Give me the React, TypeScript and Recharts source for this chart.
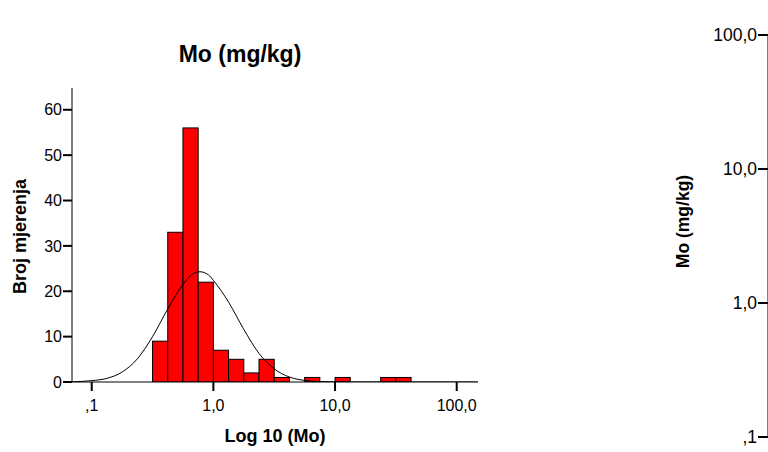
import React from "react";
import { ComposedChart, Bar, Line, XAxis, YAxis } from "recharts";

// histogram bins on log10(Mo), bin width 0.125
const binCenters = [
  -0.4375, -0.3125, -0.1875, -0.0625, 0.0625, 0.1875, 0.3125, 0.4375, 0.5625,
  0.6875, 0.8125, 0.9375, 1.0625, 1.1875, 1.3125, 1.4375, 1.5625,
];
const binCounts = [9, 33, 56, 22, 7, 5, 2, 5, 1, 0, 1, 0, 1, 0, 0, 1, 1];
const binWidth = 0.125;

// fitted normal curve
const curveX = [
  -1.16, -1.0, -0.875, -0.75, -0.625, -0.5, -0.375, -0.25, -0.18, -0.11, -0.04,
  0, 0.125, 0.25, 0.375, 0.5, 0.625, 0.75, 0.875, 1.0, 1.25, 2.175,
];
const curveY = [
  0.05, 0.3, 0.8, 2.2, 5.1, 10, 16.1, 21.5, 23.6, 24.3, 23.6, 22.4, 17.6, 11.6,
  6.3, 2.9, 1.1, 0.35, 0.1, 0.03, 0, 0,
];

const xDomain = [-1.162, 2.175];
const xTicks = [-1, 0, 1, 2];
const xTickLabels = [",1", "1,0", "10,0", "100,0"];
const yTicks = [0, 10, 20, 30, 40, 50, 60];

const boxTicks = [0.1, 1, 10, 100];
const boxTickLabels = [",1", "1,0", "10,0", "100,0"];

const histData = binCenters.map((x, i) => ({ x, count: binCounts[i] }));
const curveData = curveX.map((x, i) => ({ x, fit: curveY[i] }));

const font = '"Liberation Sans", Arial, sans-serif';

const chartW = 480;
const margin = { top: 88, right: 2, bottom: 40, left: 22 };
const yAxisW = 50;
const plotW = chartW - margin.left - margin.right - yAxisW;
// bar width in px = bin width scaled to the x axis
const barPx = (binWidth * plotW) / (xDomain[1] - xDomain[0]);

function HistBar(props: any) {
  const { x, width, y, height } = props;
  if (!height || height <= 0) return null;
  const cx = x + width / 2;
  return (
    <rect
      x={cx - barPx / 2}
      y={y}
      width={barPx}
      height={height}
      fill="#ff0000"
      stroke="#000"
      strokeWidth={1}
    />
  );
}

export default function App() {
  return (
    <div
      style={{
        position: "absolute",
        left: 0,
        top: 0,
        width: 768,
        height: 452,
        overflow: "hidden",
        background: "#fff",
        fontFamily: font,
        color: "#000",
      }}
    >
      <div
        style={{
          position: "absolute",
          left: 140,
          width: 200,
          top: 41,
          textAlign: "center",
          fontSize: 23,
          fontWeight: "bold",
        }}
      >
        Mo (mg/kg)
      </div>
      <div style={{ position: "absolute", left: 0, top: 0 }}>
        <ComposedChart width={chartW} height={452} data={histData} margin={margin}>
          <XAxis
            dataKey="x"
            type="number"
            domain={xDomain}
            allowDataOverflow
            ticks={xTicks}
            tickFormatter={(v: number) => xTickLabels[xTicks.indexOf(v)] ?? ""}
            height={30}
            tickSize={9}
            tickMargin={9}
            tick={{ fill: "#000", fontSize: 16 }}
            axisLine={{ stroke: "#000", strokeWidth: 1 }}
            tickLine={{ stroke: "#000", strokeWidth: 2 }}
          />
          <YAxis
            type="number"
            domain={[0, 64.8]}
            allowDataOverflow
            ticks={yTicks}
            width={yAxisW}
            tickSize={9}
            tickMargin={1}
            tick={{ fill: "#000", fontSize: 16 }}
            axisLine={{ stroke: "#000", strokeWidth: 1 }}
            tickLine={{ stroke: "#000", strokeWidth: 2 }}
          />
          <Bar
            dataKey="count"
            fill="#ff0000"
            stroke="#000"
            shape={HistBar}
            isAnimationActive={false}
          />
          <Line
            data={curveData}
            dataKey="fit"
            type="monotone"
            stroke="#000"
            strokeWidth={1}
            dot={false}
            activeDot={false}
            isAnimationActive={false}
          />
        </ComposedChart>
      </div>
      <div
        style={{
          position: "absolute",
          left: 175,
          width: 200,
          top: 426,
          textAlign: "center",
          fontSize: 18,
          fontWeight: "bold",
        }}
      >
        Log 10 (Mo)
      </div>
      <div style={{ position: "absolute", left: 20, top: 237, width: 0, height: 0 }}>
        <div
          style={{
            position: "absolute",
            left: -100,
            top: -11,
            width: 200,
            textAlign: "center",
            fontSize: 18,
            fontWeight: "bold",
            transform: "rotate(-90deg)",
            whiteSpace: "nowrap",
          }}
        >
          Broj mjerenja
        </div>
      </div>

      <div style={{ position: "absolute", left: 600, top: 0 }}>
        <ComposedChart
          width={300}
          height={452}
          data={[]}
          margin={{ top: 35, right: 0, bottom: 15, left: 0 }}
        >
          <XAxis hide type="number" domain={[0, 1]} />
          <YAxis
            type="number"
            scale="log"
            domain={[0.1, 100]}
            allowDataOverflow
            ticks={boxTicks}
            tickFormatter={(v: number) => boxTickLabels[boxTicks.indexOf(v)] ?? ""}
            width={168}
            tickSize={10}
            tickMargin={1}
            tick={{ fill: "#000", fontSize: 17.5 }}
            axisLine={{ stroke: "#000", strokeWidth: 1 }}
            tickLine={{ stroke: "#000", strokeWidth: 2 }}
          />
        </ComposedChart>
      </div>
      <div style={{ position: "absolute", left: 683, top: 222, width: 0, height: 0 }}>
        <div
          style={{
            position: "absolute",
            left: -100,
            top: -11,
            width: 200,
            textAlign: "center",
            fontSize: 17.5,
            fontWeight: "bold",
            transform: "rotate(-90deg)",
            whiteSpace: "nowrap",
          }}
        >
          Mo (mg/kg)
        </div>
      </div>
    </div>
  );
}
